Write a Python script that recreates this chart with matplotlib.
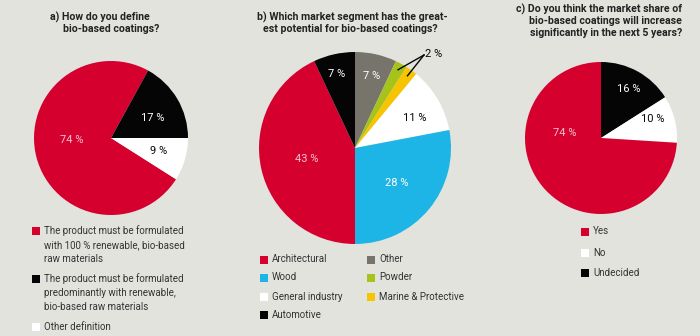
import numpy as np
import matplotlib
matplotlib.use('Agg')
import matplotlib.pyplot as plt
from matplotlib.patches import Rectangle

plt.rcParams['font.family'] = ['Roboto', 'DejaVu Sans']

# ---- data ----
a_labels = ['The product must be formulated\nwith 100 % renewable, bio-based\nraw materials',
            'The product must be formulated\npredominantly with renewable,\nbio-based raw materials',
            'Other definition']
a_values = [74, 17, 9]

b_labels = ['Other', 'Powder', 'Marine & Protective', 'General industry',
            'Wood', 'Architectural', 'Automotive']
b_values = [7, 2, 2, 11, 28, 43, 7]

c_labels = ['Undecided', 'No', 'Yes']
c_values = [16, 10, 74]

# ---- style ----
BG = '#e3e3de'
RED = '#d6002f'
BLACK = '#050505'
WHITE = '#ffffff'
PINK = '#f7c3cf'
TXT = '#222222'
a_colors = [RED, BLACK, WHITE]
b_colors = ['#77756b', '#a6c31b', '#f6c400', WHITE, '#1db5e5', RED, BLACK]
c_colors = [BLACK, WHITE, RED]

H = 336
def Y(y):
    return H - y

fig = plt.figure(figsize=(7, 3.36), dpi=100, facecolor=BG)
ax = fig.add_axes([0, 0, 1, 1])
ax.set_facecolor(BG)

# ---- pies ----
ca, ra = (111, 138), 77
cb, rb = (355, 148), 96
cc, rc = (601, 138), 76

# a: counterclockwise red, white, black so black sits at top right
wa, _ = ax.pie([a_values[0], a_values[2], a_values[1]],
               colors=[a_colors[0], a_colors[2], a_colors[1]],
               startangle=a_values[1] * 3.6, counterclock=True,
               center=(ca[0], Y(ca[1])), radius=ra,
               wedgeprops=dict(linewidth=0))
wb, _ = ax.pie(b_values, colors=b_colors, startangle=90, counterclock=False,
               center=(cb[0], Y(cb[1])), radius=rb, wedgeprops=dict(linewidth=0))
wc, _ = ax.pie(c_values, colors=c_colors, startangle=90, counterclock=False,
               center=(cc[0], Y(cc[1])), radius=rc, wedgeprops=dict(linewidth=0))

ax.set_xlim(0, 700)
ax.set_ylim(0, H)
ax.set_aspect('auto')
ax.axis('off')

def pct(center, dx, dy, value, color):
    ax.text(center[0] + dx, Y(center[1] + dy), f'{value} %', color=color,
            fontsize=8, ha='center', va='center')

# percent labels
pct(ca, -39, 2, a_values[0], PINK)
pct(ca, 42, -20, a_values[1], WHITE)
pct(ca, 48, 13, a_values[2], BLACK)

pct(cb, -18, -74, b_values[6], WHITE)
pct(cb, 17, -72, b_values[0], WHITE)
pct(cb, 60, -30, b_values[3], BLACK)
pct(cb, 42, 35, b_values[4], WHITE)
pct(cb, -48, 11, b_values[5], PINK)

pct(cc, 28, -49, c_values[0], WHITE)
pct(cc, 52, -19, c_values[1], BLACK)
pct(cc, -36, -5, c_values[2], PINK)

# 2 % callout for Powder and Marine & Protective
lab_x, lab_y = cb[0] + 79, cb[1] - 94
ax.text(lab_x, Y(lab_y), f'{b_values[1]} %', color=BLACK, fontsize=8,
        ha='center', va='center')
for w in (wb[1], wb[2]):
    ang = np.deg2rad((w.theta1 + w.theta2) / 2)
    ex = cb[0] + rb * 0.93 * np.cos(ang)
    ey = Y(cb[1]) + rb * 0.93 * np.sin(ang)
    ax.plot([lab_x - 10, ex], [Y(lab_y + 1), ey], color=BLACK, lw=1)

# ---- titles ----
tkw = dict(fontsize=7.6, fontweight='bold', color=TXT, ha='left', va='center')
ax.text(50, Y(17), 'a) How do you define', **tkw)
ax.text(63, Y(29), 'bio-based coatings?', **tkw)
ax.text(257, Y(17), 'b) Which market segment has the great-', **tkw)
ax.text(263, Y(29), 'est potential for bio-based coatings?', **tkw)
tkw['ha'] = 'right'
ax.text(682, Y(9), 'c) Do you think the market share of', **tkw)
ax.text(682, Y(21), 'bio-based coatings will increase', **tkw)
ax.text(682, Y(33), 'significantly in the next 5 years?', **tkw)

# ---- legends ----
SQ = 8
def legend_item(x, y, color, label):
    ax.add_patch(Rectangle((x, Y(y) - SQ / 2), SQ, SQ, facecolor=color,
                           edgecolor='none'))
    ax.text(x + 12, Y(y) + 5.5, label, fontsize=7, color='#333333',
            ha='left', va='top', linespacing=1.45)

a_rows = [231, 279, 327]
for lab, col, y in zip(a_labels, a_colors, a_rows):
    legend_item(32, y, col, lab)

b_order = [5, 4, 3, 6, 0, 1, 2]
b_pos = [(260, 260), (260, 278), (260, 297), (260, 315),
         (367, 260), (367, 278), (367, 297)]
for i, (x, y) in zip(b_order, b_pos):
    legend_item(x, y, b_colors[i], b_labels[i])

c_order = [2, 1, 0]
c_rows = [232, 253, 273]
for i, y in zip(c_order, c_rows):
    legend_item(581, y, c_colors[i], c_labels[i])

fig.savefig('out.png', dpi=100, facecolor=BG)
